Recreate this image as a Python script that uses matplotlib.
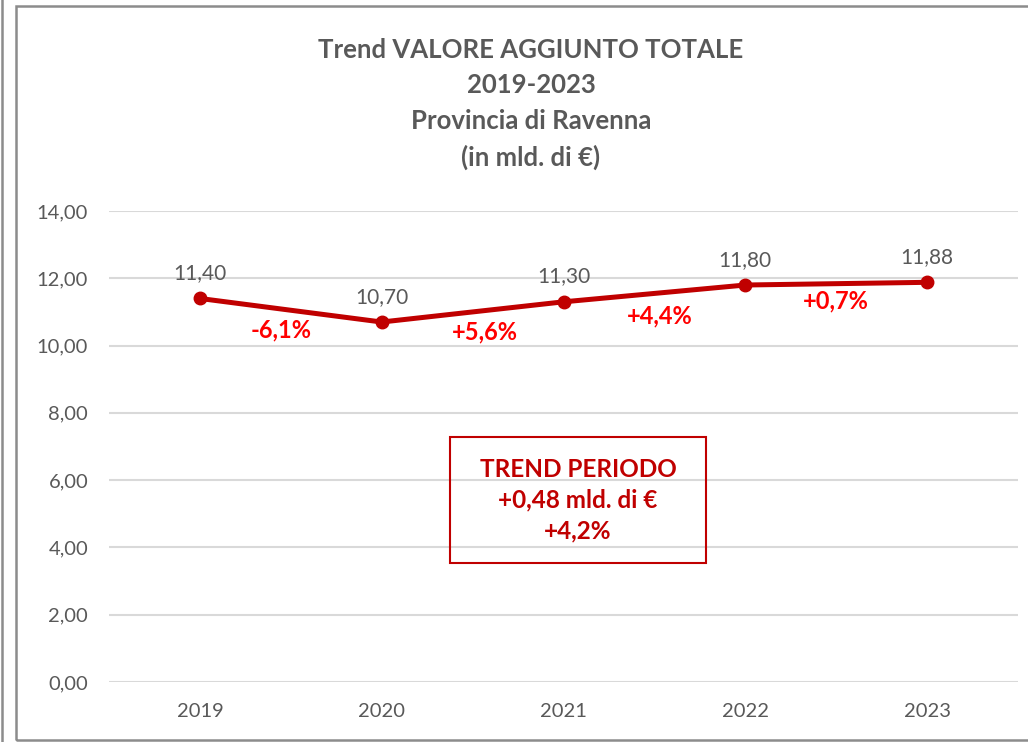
import matplotlib.pyplot as plt
from matplotlib.patches import Rectangle
from matplotlib.lines import Line2D

plt.rcParams['font.family'] = ['Lato', 'DejaVu Sans']

# dati
anni = ['2019', '2020', '2021', '2022', '2023']
valori = [11.40, 10.70, 11.30, 11.80, 11.88]
variazioni = ['-6,1%', '+5,6%', '+4,4%', '+0,7%']
var_dx = [-10, 12, 5, 0]  # piccoli spostamenti orizzontali delle etichette (px)
var_dy = [-20, -20, -22, -17]
yticks = [0, 2, 4, 6, 8, 10, 12, 14]
titolo = 'Trend VALORE AGGIUNTO TOTALE\n2019-2023\nProvincia di Ravenna\n(in mld. di €)'
box_testo = 'TREND PERIODO\n+0,48 mld. di €\n+4,2%'

GRIGIO = '#595959'
ROSSO_SCURO = '#C00000'
ROSSO = '#FF0000'

W, H = 1028, 742
fig = plt.figure(figsize=(W / 100, H / 100), dpi=100)

# cornici
fig.add_artist(Line2D([1.5 / W, 1.5 / W], [0, 1], color='#8c8c8c', lw=1.8))
fig.add_artist(Rectangle((16 / W, 1 - 740 / H), 1.2, (740 - 6) / H,
                         fill=False, edgecolor='#8c8c8c', lw=1.8))

ax = fig.add_axes([109 / W, 1 - 682 / H, (1018 - 109) / W, (682 - 211) / H])
x = list(range(len(anni)))

ax.set_xlim(-0.5, len(anni) - 0.5)
ax.set_ylim(0, 14)
ax.set_yticks(yticks)
ax.set_yticklabels([f'{v:.2f}'.replace('.', ',') for v in yticks])
ax.set_xticks(x)
ax.set_xticklabels(anni)
ax.tick_params(length=0, labelsize=14.5, colors=GRIGIO)
ax.tick_params(axis='y', pad=15)
ax.tick_params(axis='x', pad=15)
for s in ax.spines.values():
    s.set_visible(False)
ax.grid(axis='y', color='#d9d9d9', lw=1.5)
ax.set_axisbelow(True)

ax.plot(x, valori, color=ROSSO_SCURO, lw=3.6, marker='o', markersize=9,
        solid_capstyle='round', zorder=3)

for xi, v in zip(x, valori):
    ax.annotate(f'{v:.2f}'.replace('.', ','), (xi, v), xytext=(0, 11),
                textcoords='offset points', ha='center', va='bottom',
                fontsize=15, color=GRIGIO)

for i, lab in enumerate(variazioni):
    xm = (x[i] + x[i + 1]) / 2
    ym = (valori[i] + valori[i + 1]) / 2
    ax.annotate(lab, (xm, ym), xytext=(var_dx[i] * 0.72, var_dy[i] * 0.72),
                textcoords='offset points', ha='center', va='center',
                fontsize=17, fontweight='bold', color=ROSSO)

# riquadro trend
ax.add_patch(Rectangle((341 / 909, 119 / 471), 256 / 909, 126 / 471,
                       transform=ax.transAxes, fill=False,
                       edgecolor=ROSSO_SCURO, lw=1.5))
ax.text(469 / 909, 182 / 471, box_testo, transform=ax.transAxes,
        ha='center', va='center', fontsize=17.5, fontweight='bold',
        color=ROSSO_SCURO, linespacing=1.4)

fig.text(531 / W, 1 - 104 / H, titolo, ha='center', va='center',
         fontsize=18.5, fontweight='bold', color=GRIGIO, linespacing=1.58)

fig.savefig('out.png', dpi=100)
